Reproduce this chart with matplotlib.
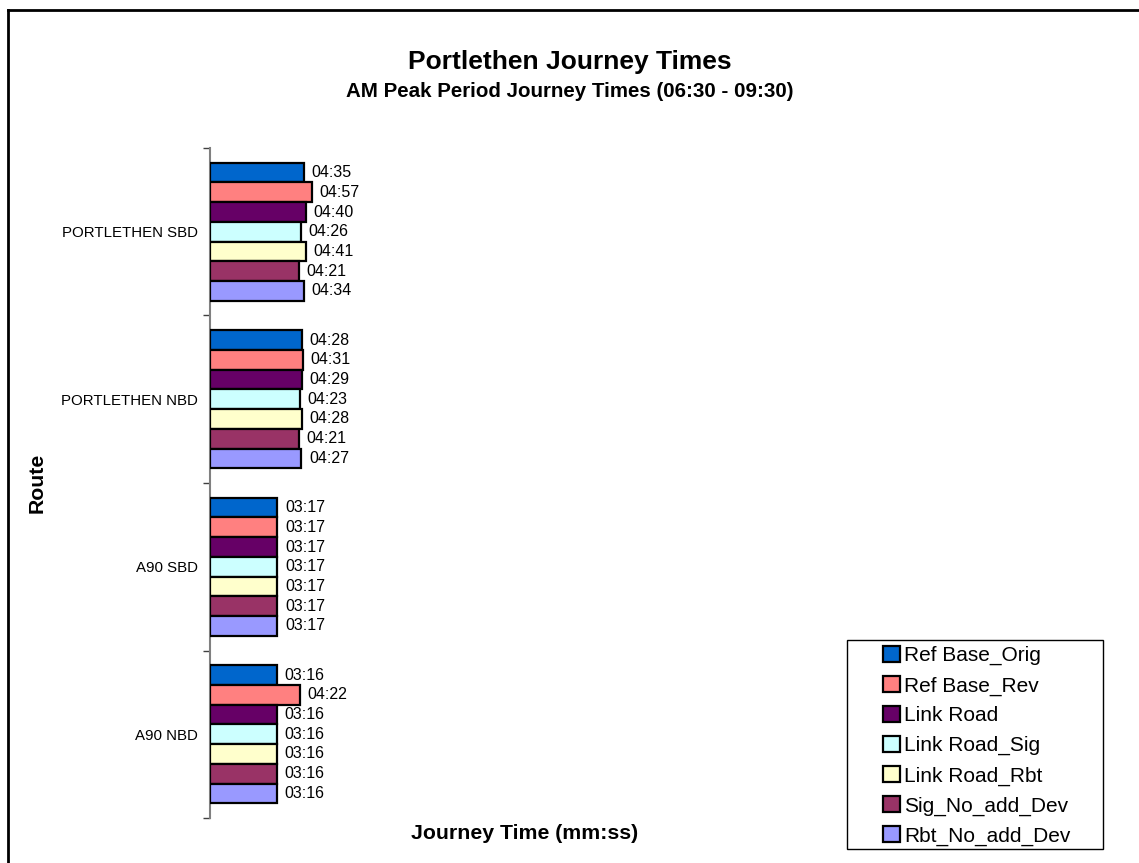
import matplotlib
matplotlib.use("Agg")
import matplotlib.pyplot as plt
from matplotlib.lines import Line2D
from matplotlib.patches import Patch, Rectangle

plt.rcParams['font.family'] = ['Liberation Sans', 'DejaVu Sans']

# Routes (top to bottom) and scenarios
routes = ["PORTLETHEN SBD", "PORTLETHEN NBD", "A90 SBD", "A90 NBD"]
scenarios = ["Ref Base_Orig", "Ref Base_Rev", "Link Road", "Link Road_Sig",
             "Link Road_Rbt", "Sig_No_add_Dev", "Rbt_No_add_Dev"]
colors = ["#0066CC", "#FF8080", "#660066", "#CCFFFF",
          "#FFFFCC", "#993366", "#9999FF"]

# Journey times as "mm:ss", one list per scenario (ordered by route)
ref_base_orig = ["04:35", "04:28", "03:17", "03:16"]
ref_base_rev = ["04:57", "04:31", "03:17", "04:22"]
link_road = ["04:40", "04:29", "03:17", "03:16"]
link_road_sig = ["04:26", "04:23", "03:17", "03:16"]
link_road_rbt = ["04:41", "04:28", "03:17", "03:16"]
sig_no_add_dev = ["04:21", "04:21", "03:17", "03:16"]
rbt_no_add_dev = ["04:34", "04:27", "03:17", "03:16"]

series = [ref_base_orig, ref_base_rev, link_road, link_road_sig,
          link_road_rbt, sig_no_add_dev, rbt_no_add_dev]


def to_seconds(t):
    m, s = t.split(":")
    return int(m) * 60 + int(s)


def fmt(sec):
    return f"{sec // 60:02d}:{sec % 60:02d}"


W, H = 1139, 863
fig = plt.figure(figsize=(W / 100, H / 100), dpi=100)


def fx(px):
    return px / W


def fy(py):
    return 1 - py / H


ax_left, ax_right, ax_top, ax_bottom = 210, 840, 148, 818
ax = fig.add_axes([fx(ax_left), fy(ax_bottom),
                   (ax_right - ax_left) / W, (ax_bottom - ax_top) / H])

n = len(scenarios)
bar_h = 0.824 / n
for i, (vals, col, name) in enumerate(zip(series, colors, scenarios)):
    secs = [to_seconds(v) for v in vals]
    ypos = [r + (i - (n - 1) / 2) * bar_h for r in range(len(routes))]
    ax.barh(ypos, secs, height=bar_h, color=col, edgecolor="black",
            linewidth=1.6, label=name, zorder=3)
    for y, s in zip(ypos, secs):
        ax.annotate(fmt(s), xy=(s, y), xytext=(5.5, 0),
                    textcoords="offset points", va="center", ha="left",
                    fontsize=11.5)

ax.set_ylim(len(routes) - 0.5, -0.5)
ax.set_xlim(0, (ax_right - ax_left) / (94 / 275))

ax.set_yticks(range(len(routes)))
ax.set_yticklabels(routes, fontsize=10.8)
ax.tick_params(axis="y", which="major", length=0, pad=8.5)
ax.set_yticks([r - 0.5 for r in range(len(routes) + 1)], minor=True)
ax.tick_params(axis="y", which="minor", length=5, width=1, color="#404040")
ax.set_xticks([])

for side in ("top", "right", "bottom"):
    ax.spines[side].set_visible(False)
ax.spines["left"].set_color("#808080")
ax.spines["left"].set_linewidth(1.5)

# Axis titles
fig.text(fx(525), fy(839), "Journey Time (mm:ss)", ha="center",
         va="baseline", fontsize=15.3, fontweight="bold")
fig.text(fx(37), fy(483), "Route", ha="center", va="center", rotation=90,
         fontsize=15.3, fontweight="bold")

# Chart titles
fig.text(0.5, fy(69), "Portlethen Journey Times", ha="center",
         va="baseline", fontsize=19, fontweight="bold")
fig.text(0.5, fy(97), "AM Peak Period Journey Times (06:30 - 09:30)",
         ha="center", va="baseline", fontsize=14.8, fontweight="bold")

# Legend with a square frame box
fig.add_artist(Rectangle((fx(847), fy(849)), (1103 - 847) / W,
                         (849 - 640) / H, transform=fig.transFigure,
                         facecolor="white", edgecolor="black", linewidth=1.0,
                         zorder=4))
handles = [Patch(facecolor=c, edgecolor="black", linewidth=1.6) for c in colors]
leg = fig.legend(handles, scenarios, loc="upper left",
                 bbox_to_anchor=(fx(883), fy(646)), borderaxespad=0,
                 fontsize=15, frameon=False,
                 handlelength=0.8, handleheight=0.8, handletextpad=0.2,
                 labelspacing=0.51, borderpad=0)
leg.set_zorder(5)

# Outer chart frame
fig.add_artist(Line2D([fx(8), fx(8)], [0, fy(10)], transform=fig.transFigure,
                      color="black", linewidth=2))
fig.add_artist(Line2D([fx(8), 1], [fy(10), fy(10)],
                      transform=fig.transFigure, color="black", linewidth=2))

fig.savefig("out.png", dpi=100)
